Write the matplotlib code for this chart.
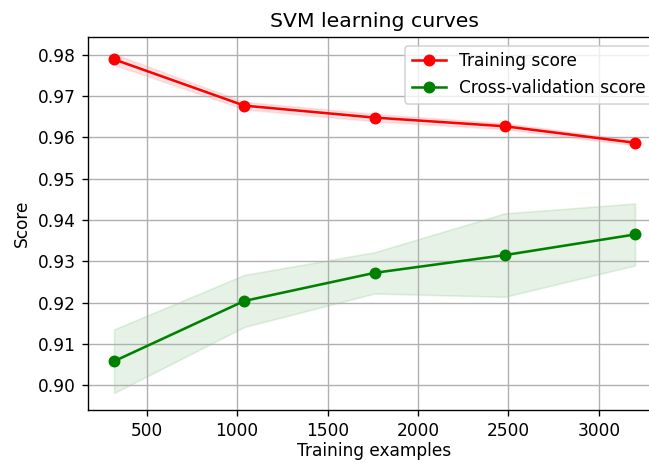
"""Learning curves for an SVM classifier: training vs cross-validation score."""

import matplotlib

matplotlib.use("Agg")
import matplotlib.pyplot as plt
import numpy as np
from matplotlib.ticker import FormatStrFormatter, MultipleLocator

# Training set sizes (10%..100% of the data)
train_sizes = [320, 1040, 1760, 2480, 3200]

# Mean and std of scores across CV folds
train_scores_mean = [0.9789, 0.9677, 0.9648, 0.9627, 0.9587]
train_scores_std = [0.0013, 0.0009, 0.0009, 0.0007, 0.0006]
test_scores_mean = [0.9058, 0.9204, 0.9272, 0.9315, 0.9365]
test_scores_std = [0.0077, 0.0063, 0.0050, 0.0101, 0.0075]

DPI = 122.4
fig = plt.figure(figsize=(649 / DPI, 463 / DPI), dpi=DPI)
ax = fig.add_axes([0.1356, 0.1145, 0.883, 0.8055])

tr_m = np.array(train_scores_mean)
tr_s = np.array(train_scores_std)
te_m = np.array(test_scores_mean)
te_s = np.array(test_scores_std)

ax.grid()
ax.fill_between(train_sizes, tr_m - tr_s, tr_m + tr_s, alpha=0.1, color="r")
ax.fill_between(train_sizes, te_m - te_s, te_m + te_s, alpha=0.1, color="g")
ax.plot(train_sizes, tr_m, "o-", color="r", label="Training score")
ax.plot(train_sizes, te_m, "o-", color="g", label="Cross-validation score")

ax.yaxis.set_major_locator(MultipleLocator(0.01))
ax.yaxis.set_major_formatter(FormatStrFormatter("%.2f"))

ax.set_title("SVM learning curves")
ax.set_xlabel("Training examples", labelpad=1.5)
ax.set_ylabel("Score")
ax.legend(loc="best")

fig.savefig("out.png", dpi=DPI)
plt.close(fig)
